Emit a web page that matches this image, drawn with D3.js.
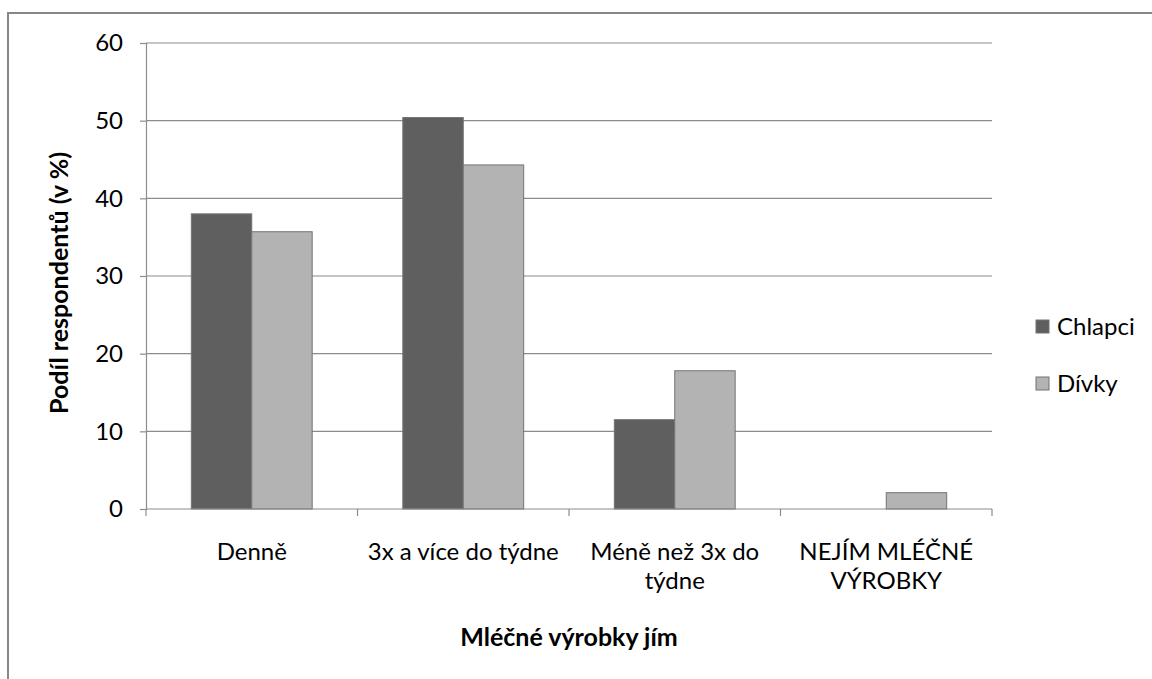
<!DOCTYPE html>
<html>
<head>
<meta charset="utf-8">
<script src="https://cdn.jsdelivr.net/npm/d3@7"></script>
<style>
  html, body { margin: 0; padding: 0; background: #fff; }
  svg { display: block; font-family: Lato, "Open Sans", sans-serif; }
</style>
</head>
<body>
<svg id="chart" width="1152" height="679"></svg>
<script>
// Consumption of dairy products by gender (% of respondents)
const categories = [["Denně"], ["3x a více do týdne"], ["Méně než 3x do", "týdne"], ["NEJÍM MLÉČNÉ", "VÝROBKY"]];
const seriesNames = ["Chlapci", "Dívky"];
const chlapci = [38.0, 50.4, 11.5, 0];
const divky = [35.7, 44.3, 17.8, 2.1];
const yTicks = [0, 10, 20, 30, 40, 50, 60];
const colors = ["#5f5f5f", "#b3b3b3"];

const svg = d3.select("#chart");
const m = { left: 146, right: 992, top: 43, bottom: 509 };
const fs = 24;

// outer chart border (only top/left visible in the frame)
svg.append("rect")
  .attr("x", 8).attr("y", 13)
  .attr("width", 1300).attr("height", 900)
  .attr("fill", "none").attr("stroke", "#878787").attr("stroke-width", 2);

const x0 = d3.scaleBand().domain(d3.range(categories.length)).range([m.left, m.right]).paddingInner(0).paddingOuter(0);
const x1 = d3.scaleBand().domain(seriesNames).range([0, x0.bandwidth()]).paddingInner(0).paddingOuter(0.75);
const y = d3.scaleLinear().domain([0, 60]).range([m.bottom, m.top]);

// horizontal gridlines
svg.append("g").selectAll("line").data(yTicks.filter(t => t > 0)).join("line")
  .attr("x1", m.left).attr("x2", m.right)
  .attr("y1", d => y(d)).attr("y2", d => y(d))
  .attr("stroke", "#8c8c8c").attr("stroke-width", 1.2);

// bars
const data = categories.map((c, i) => [chlapci[i], divky[i]]);
const groups = svg.append("g").selectAll("g").data(data).join("g")
  .attr("transform", (d, i) => `translate(${x0(i)},0)`);
groups.selectAll("rect").data(d => d.map((v, j) => ({ v, j }))).join("rect")
  .filter(d => d.v > 0)
  .attr("x", d => x1(seriesNames[d.j]))
  .attr("width", x1.bandwidth())
  .attr("y", d => y(d.v))
  .attr("height", d => y(0) - y(d.v))
  .attr("fill", d => colors[d.j])
  .attr("stroke", "#737373").attr("stroke-width", 1);

// y axis
const yAxis = svg.append("g").attr("transform", `translate(${m.left},0)`)
  .call(d3.axisLeft(y).tickValues(yTicks).tickSize(6).tickPadding(17));
yAxis.select(".domain").attr("stroke", "#8c8c8c").attr("stroke-width", 1.2);
yAxis.selectAll(".tick line").attr("stroke", "#8c8c8c").attr("stroke-width", 1.2);
yAxis.selectAll(".tick text").attr("font-size", fs).attr("fill", "#000")
  .attr("font-family", "Lato, sans-serif");

// x axis baseline and category separators
svg.append("line").attr("x1", m.left).attr("x2", m.right)
  .attr("y1", y(0)).attr("y2", y(0)).attr("stroke", "#8c8c8c").attr("stroke-width", 1.2);
svg.append("g").selectAll("line").data(d3.range(categories.length + 1)).join("line")
  .attr("x1", i => m.left + i * x0.bandwidth()).attr("x2", i => m.left + i * x0.bandwidth())
  .attr("y1", y(0)).attr("y2", y(0) + 7)
  .attr("stroke", "#8c8c8c").attr("stroke-width", 1.2);

// category labels
const catText = svg.append("g").selectAll("text").data(categories).join("text")
  .attr("x", (d, i) => x0(i) + x0.bandwidth() / 2)
  .attr("y", 560)
  .attr("text-anchor", "middle")
  .attr("font-size", fs).attr("fill", "#000");
catText.selectAll("tspan").data(d => d).join("tspan")
  .attr("x", function () { return d3.select(this.parentNode).attr("x"); })
  .attr("dy", (d, i) => i === 0 ? 0 : 29)
  .text(d => d);

// axis titles
svg.append("text").attr("x", (m.left + m.right) / 2).attr("y", 646)
  .attr("text-anchor", "middle").attr("font-size", 25).attr("font-weight", "bold")
  .attr("fill", "#000").text("Mléčné výrobky jím");
svg.append("text").attr("transform", `translate(68,283) rotate(-90)`)
  .attr("text-anchor", "middle").attr("font-size", 25).attr("font-weight", "bold")
  .attr("fill", "#000").text("Podíl respondentů (v %)");

// legend
const legend = svg.append("g").selectAll("g").data(seriesNames).join("g")
  .attr("transform", (d, i) => `translate(1036,${320 + i * 57})`);
legend.append("rect").attr("width", 13).attr("height", 13)
  .attr("fill", (d, i) => colors[i]).attr("stroke", "#737373").attr("stroke-width", 1);
legend.append("text").attr("x", 21).attr("y", 15)
  .attr("font-size", fs).attr("fill", "#000").text(d => d);
</script>
</body>
</html>
